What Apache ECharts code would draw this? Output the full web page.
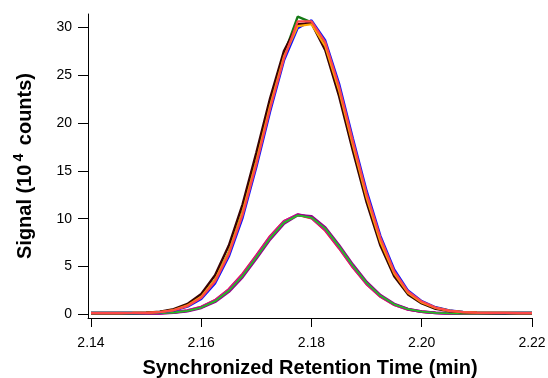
<!DOCTYPE html>
<html>
<head>
<meta charset="utf-8">
<script src="https://cdn.jsdelivr.net/npm/echarts@6/dist/echarts.min.js"></script>
<style>html,body{margin:0;padding:0;background:#fff;}#c{width:548px;height:378px;}</style>
</head>
<body>
<div id="c"></div>
<script>
// Retention times (min), sampling grid
const times = [2.1400,2.1425,2.1450,2.1475,2.1500,2.1525,2.1550,2.1575,2.1600,2.1625,2.1650,2.1675,2.1700,2.1725,2.1750,2.1775,2.1800,2.1825,2.1850,2.1875,2.1900,2.1925,2.1950,2.1975,2.2000,2.2025,2.2050,2.2075,2.2100,2.2125,2.2150,2.2175,2.2200];

// Tall peaks (10^4 counts)
const tallBlue   = [0.15,0.15,0.15,0.15,0.17,0.23,0.41,0.82,1.62,3.25,6.05,10.1,15.4,21.2,26.5,29.9,30.7,28.6,24.1,18.4,12.9,8.2,4.7,2.5,1.4,0.76,0.43,0.27,0.2,0.17,0.16,0.15,0.15];
const tallGreen  = [0.15,0.15,0.15,0.16,0.18,0.26,0.46,0.92,1.82,3.6,6.5,10.7,16.1,21.9,27.1,31.1,30.5,28.1,23.5,17.8,12.3,7.7,4.35,2.28,1.28,0.7,0.4,0.25,0.2,0.17,0.16,0.15,0.15];
const tallBrown  = [0.15,0.15,0.16,0.17,0.2,0.3,0.55,1.1,2.15,4.1,7.2,11.5,16.9,22.6,27.5,30.3,30.4,27.6,22.8,17.1,11.7,7.2,4.0,2.1,1.15,0.6,0.35,0.22,0.18,0.16,0.15,0.15,0.15];
const tallOrange = [0.15,0.15,0.15,0.16,0.18,0.26,0.47,0.95,1.85,3.6,6.5,10.7,16.0,21.8,26.9,30.1,30.3,28.0,23.4,17.7,12.2,7.6,4.3,2.25,1.25,0.68,0.38,0.24,0.19,0.17,0.16,0.15,0.15];
const tallRed    = [0.15,0.15,0.15,0.16,0.18,0.25,0.44,0.88,1.75,3.45,6.3,10.4,15.7,21.5,26.7,30.6,30.6,28.4,23.8,18.1,12.6,8.0,4.5,2.4,1.35,0.72,0.4,0.25,0.2,0.17,0.16,0.15,0.15];

// Short peaks (10^4 counts)
const shortRed     = [0.1,0.1,0.1,0.1,0.11,0.15,0.23,0.42,0.8,1.5,2.65,4.25,6.2,8.2,9.75,10.4,10.05,8.75,6.9,4.9,3.15,1.85,1.0,0.52,0.28,0.17,0.12,0.1,0.1,0.1,0.1,0.1,0.1];
const shortBlue    = [0.1,0.1,0.1,0.1,0.11,0.14,0.21,0.38,0.73,1.39,2.48,4.04,5.97,7.97,9.59,10.41,10.17,8.96,7.11,5.09,3.30,1.95,1.06,0.55,0.29,0.17,0.12,0.1,0.1,0.1,0.1,0.1,0.1];
const shortMagenta = [0.1,0.1,0.1,0.1,0.11,0.15,0.22,0.4,0.77,1.45,2.58,4.15,6.1,8.1,9.7,10.45,10.1,8.85,7.0,5.0,3.22,1.9,1.03,0.54,0.29,0.17,0.12,0.1,0.1,0.1,0.1,0.1,0.1];
const shortPurple  = [0.1,0.1,0.1,0.1,0.11,0.13,0.2,0.36,0.7,1.33,2.38,3.92,5.85,7.85,9.5,10.38,10.25,9.07,7.23,5.2,3.39,2.01,1.1,0.57,0.3,0.18,0.12,0.1,0.1,0.1,0.1,0.1,0.1];
const shortGreen   = [0.1,0.1,0.1,0.1,0.11,0.14,0.21,0.38,0.73,1.39,2.48,4.04,5.97,7.97,9.59,10.35,10.12,8.96,7.11,5.09,3.30,1.95,1.06,0.55,0.29,0.17,0.12,0.1,0.1,0.1,0.1,0.1,0.1];

// Axis ticks
const xTicks = [2.14, 2.16, 2.18, 2.20, 2.22];
const yTicks = [0, 5, 10, 15, 20, 25, 30];

const FONT = 'Liberation Sans, Arial, Helvetica, sans-serif';

function pairs(vals){ return times.map((t,i)=>[t, vals[i]]); }
function line(vals, color, w){
  return {type:'line', data:pairs(vals), showSymbol:false, symbol:'none', smooth:false,
          lineStyle:{color:color, width:w || 2.2}, itemStyle:{color:color}, silent:true};
}

const series = [
  line(shortRed, '#ff2a2a', 2.4),
  line(shortBlue, '#3030ff', 2.2),
  line(shortMagenta, '#c8109a', 2.8),
  line(shortPurple, '#96008c', 2.8),
  line(shortGreen, '#22c022', 1.8),
  line(tallBlue, '#1010ff', 2.4),
  line(tallGreen, '#157a15', 2.4),
  line(tallBrown, '#3a0202', 2.4),
  line(tallOrange, '#ffa500', 2.2),
  line(tallRed, '#ff4848', 2.2)
];

const chart = echarts.init(document.getElementById('c'), null, {renderer:'canvas'});
chart.setOption({
  animation:false,
  backgroundColor:'#ffffff',
  grid:{left:88, right:16, top:14, bottom:60, containLabel:false, outerBoundsMode:'none'},
  xAxis:{
    type:'value', min:2.13946, max:2.22,
    name:'Synchronized Retention Time (min)', nameLocation:'middle', nameGap:40,
    nameTextStyle:{fontFamily:FONT, fontSize:20, fontWeight:'bold', color:'#000'},
    axisLine:{onZero:false, lineStyle:{color:'#000', width:1}},
    axisTick:{show:true, length:9, inside:false, customValues:xTicks, lineStyle:{color:'#000', width:1}},
    axisLabel:{customValues:xTicks, margin:18, fontFamily:FONT, fontSize:14, color:'#000',
               formatter:(v)=>Number(v).toFixed(2), showMinLabel:true, showMaxLabel:true},
    splitLine:{show:false}
  },
  yAxis:{
    type:'value', min:-0.365, max:31.37,
    name:'Signal (10{sup|4} counts)', nameLocation:'middle', nameGap:50, nameRotate:90,
    nameTextStyle:{fontFamily:FONT, fontSize:20, fontWeight:'bold', color:'#000',
      rich:{sup:{fontFamily:FONT, fontSize:14, fontWeight:'bold', color:'#000', padding:[0,3,12,3]}}},
    axisLine:{show:true, onZero:false, lineStyle:{color:'#000', width:1}},
    axisTick:{show:true, length:10, customValues:yTicks, lineStyle:{color:'#000', width:1}},
    axisLabel:{customValues:yTicks, margin:16, fontFamily:FONT, fontSize:14, color:'#000'},
    splitLine:{show:false}
  },
  series:series
});
</script>
</body>
</html>
